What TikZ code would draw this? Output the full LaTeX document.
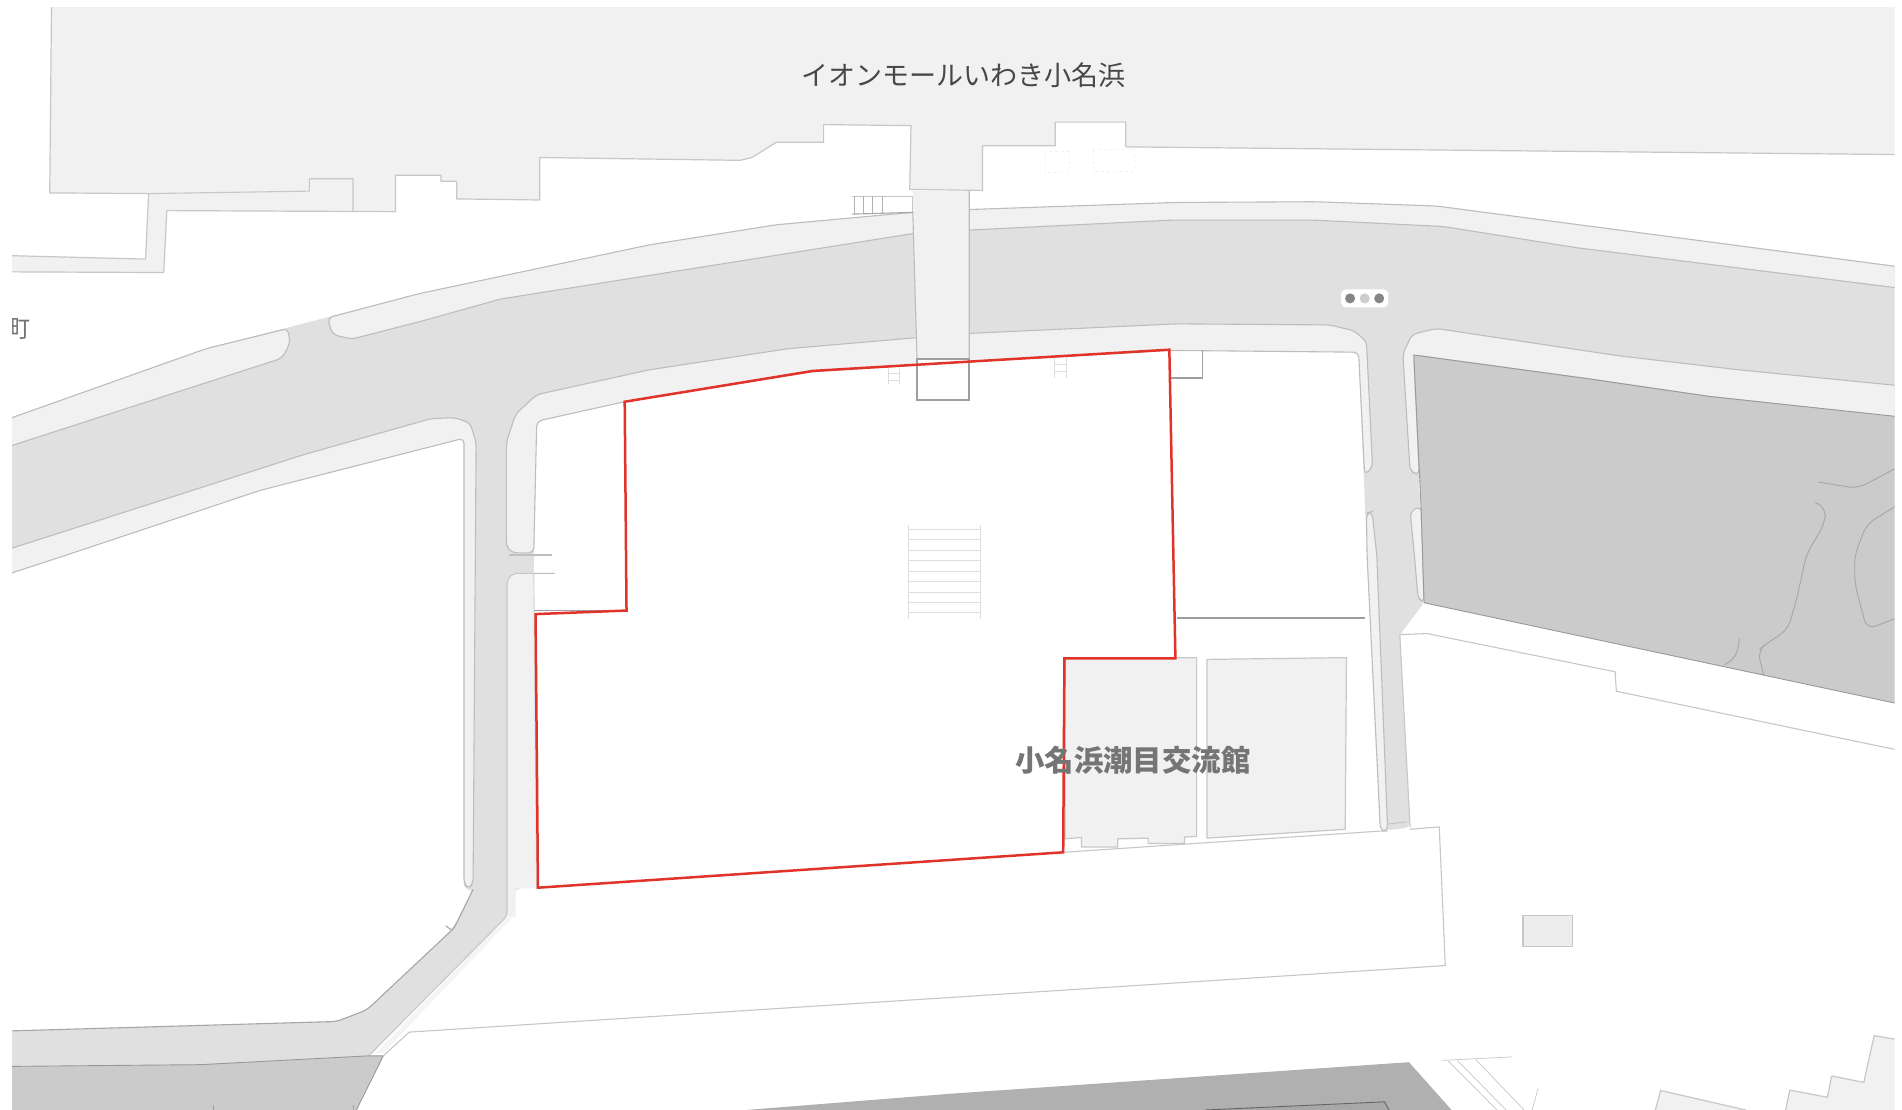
\documentclass[tikz,border=0pt]{standalone}
\usepackage{fontspec}
\newfontfamily\cjk{Noto Sans CJK JP}
\definecolor{roadc}{HTML}{E0E0E0}
\definecolor{walkc}{HTML}{F1F1F1}
\definecolor{edgec}{HTML}{BDBDBD}
\definecolor{parkc}{HTML}{CBCBCB}
\definecolor{redline}{HTML}{E2332A}
\tikzset{
  roadfill/.style={fill=roadc,draw=none,rounded corners=5pt},
  walk/.style={fill=walkc,draw=edgec,line width=1.1pt,rounded corners=5pt},
  block/.style={fill=walkc,draw=edgec!85,line width=1.2pt,line join=round},
  thinline/.style={draw=edgec!85,line width=1.1pt,line join=round},
  stairs/.style={draw=black!13,line width=.7pt},
  parkline/.style={draw=black!35,line width=.9pt,rounded corners=9pt},
  boundary/.style={draw=redline,line width=2.5pt,line join=miter},
  grayline/.style={draw=black!38,line width=1.1pt},
  lamp/.style={circle,inner sep=0pt,minimum size=10pt},
}
\begin{document}
\begin{tikzpicture}[x=0.60651pt,y=-0.35395pt]
\useasboundingbox (0,0) rectangle (3136,3136);
\fill[white] (0,0) rectangle (3136,3136);
\begin{scope}
\clip (20,20) rectangle (3124,3136);
% mall
\path[block] (85,5) -- (82,545) -- (245,547) -- (240,732) -- (10,722) -- (10,768) -- (270,770) -- (275,595) -- (652,598) -- (652,495) -- (727,495) -- (727,512) -- (753,512) -- (753,562) -- (890,565) -- (890,445) -- (1220,453) -- (1240,445) -- (1280,402) -- (1358,402) -- (1358,352) -- (1502,355) -- (1500,535) -- (1620,538) -- (1620,412) -- (1740,412) -- (1740,345) -- (1856,345) -- (1856,415) -- (3140,437) -- (3140,5) -- cycle;
\draw[thinline] (245,547) -- (510,540) -- (510,505) -- (582,505) -- (582,595);
% pale marks below the mall
\draw[draw=black!5,line width=.8pt,dashed] (1723,428) rectangle (1763,488);
\draw[draw=black!5,line width=.8pt,dashed] (1803,422) rectangle (1871,485);
% road surface
\path[roadfill] (10,1186) -- (340,985) -- (690,830) -- (1070,692) -- (1280,635) -- (1505,600) -- (1938,572) -- (2168,570) -- (2368,582) -- (3140,755) -- (3140,1180) -- (2818,1120) -- (2618,1070) -- (2331,1003) -- (2348,1703) -- (2308,1793) -- (2325,2338) -- (2276,2348) -- (2254,1568) -- (2240,995) -- (1928,990) -- (1568,1025) -- (1340,1050) -- (1030,1135) -- (885,1190) -- (880,1620) -- (885,2508) -- (850,2510) -- (836,2588) -- (608,2983) -- (330,3008) -- (10,3013) -- (10,2913) -- (555,2886) -- (605,2853) -- (745,2628) -- (780,2513) -- (765,2513) -- (765,1238) -- (430,1385) -- (110,1568) -- (10,1624) -- cycle;
% sidewalks
\path[walk] (10,1186) -- (340,985) -- (475,928) -- (478,970) -- (465,1012) -- (10,1264) -- cycle;
\path[walk] (540,898) -- (690,830) -- (1070,692) -- (1280,635) -- (1505,600) -- (1598,592) -- (1938,572) -- (2168,570) -- (2368,582) -- (3145,757) -- (3145,817) -- (2600,700) -- (2380,640) -- (2168,622) -- (1930,622) -- (1598,650) -- (1505,660) -- (825,845) -- (700,905) -- (580,958) -- (548,945) -- cycle;
\path[walk] (10,1554) -- (300,1395) -- (500,1285) -- (710,1183) -- (750,1180) -- (775,1195) -- (785,1250) -- (780,2495) -- (772,2513) -- (765,2495) -- (765,1238) -- (430,1385) -- (110,1568) -- (10,1624) -- cycle;
\path[walk] (835,1250) -- (850,1170) -- (885,1115) -- (1070,1045) -- (1300,985) -- (1505,955) -- (1598,942) -- (1940,915) -- (2193,918) -- (2233,935) -- (2253,965) -- (2263,1320) -- (2250,1342) -- (2240,995) -- (1928,990) -- (1568,1025) -- (1340,1050) -- (1030,1135) -- (885,1190) -- (880,1562) -- (845,1562) -- (835,1545) -- cycle;
\fill[walkc] (836,1640) -- (845,1620) -- (880,1620) -- (885,2508) -- (850,2510) -- (850,2590) -- (836,2588) -- cycle;
\fill[black!4] (836,2588) -- (846,2590) -- (632,2975) -- (620,2975) -- cycle;
\draw[thinline,rounded corners=4pt] (915,1620) -- (845,1620) -- (836,1640) -- (836,2588) -- (608,2983);
\draw[thinline,draw=edgec!60] (880,1620) -- (885,2508);
\path[walk] (2313,1000) -- (2328,945) -- (2368,928) -- (2668,1005) -- (2868,1045) -- (3145,1092) -- (3145,1182) -- (2818,1120) -- (2618,1070) -- (2331,1003) -- (2340,1342) -- (2325,1332) -- cycle;
\path[walk] (2253,1450) -- (2262,1445) -- (2270,1568) -- (2288,2348) -- (2276,2348) -- (2254,1568) -- cycle;
\path[walk] (2325,1445) -- (2343,1430) -- (2348,1703) -- (2338,1690) -- (2332,1568) -- cycle;
\draw[thinline] (2308,1793) -- (2325,2338);
\draw[thinline] (2288,2328) -- (2320,2322);
% west road edges
\draw[thinline,draw=black!35,rounded corners=5pt] (780,2513) -- (750,2618) -- (745,2628) -- (605,2853) -- (555,2886) -- (10,2913);
\draw[thinline,draw=black!35] (735,2616) -- (745,2628);
% park
\path[fill=parkc,draw=black!40,line width=.9pt] (2331,1003) -- (2618,1070) -- (2818,1120) -- (3145,1180) -- (3145,1994) -- (2348,1703) -- (2343,1430) -- cycle;
\draw[parkline] (2998,1362) -- (3063,1380) -- (3140,1310);
\draw[parkline] (2993,1420) -- (3011,1435) -- (3008,1480) -- (2978,1568) -- (2963,1688) -- (2948,1778) -- (2913,1818) -- (2898,1838) -- (2908,1908);
\draw[parkline] (2868,1803) -- (2863,1858) -- (2843,1878);
\draw[parkline] (3140,1415) -- (3078,1480) -- (3058,1568) -- (3058,1648) -- (3078,1778) -- (3140,1738);
% south-west dark block
\path[fill=parkc,draw=black!40,line width=.9pt] (10,3013) -- (330,3008) -- (608,2983) -- (632,2983) -- (585,3145) -- (10,3145) -- cycle;
\draw[grayline] (352,3123) -- (352,3136) (583,3123) -- (583,3136);
% east boundary lines
\draw[thinline] (2308,1793) -- (2353,1790) -- (2663,1898) -- (2665,1953) -- (3140,2123);
% large outlined plot
\draw[thinline] (2276,2348) -- (1753,2408) (2325,2343) -- (2373,2336) -- (2383,2728) -- (1568,2818) -- (675,2916) -- (632,2983);
% bridge
\fill[walkc] (1505,540) -- (1598,540) -- (1598,1015) -- (1512,1015) -- cycle;
\draw[thinline,draw=edgec] (1505,600) -- (1512,1015) (1598,540) -- (1598,1015);
\draw[thinline] (1505,555) -- (1505,600);
\draw[thinline] (1405,555) -- (1505,555);
\draw[stairs,draw=black!30] (1408,555) -- (1408,605) (1423,555) -- (1423,605) (1438,555) -- (1438,605) (1455,555) -- (1455,605);
\draw[thinline,draw=black!35] (1405,605) -- (1505,600);
\path[fill=white,draw=black!38,line width=1.6pt] (1512,1015) rectangle (1598,1130);
% small stairs
\draw[stairs] (1465,1040) -- (1465,1085) (1482,1040) -- (1482,1085) (1465,1055) -- (1482,1055) (1465,1075) -- (1482,1075);
\draw[stairs] (1738,1010) -- (1738,1068) (1758,1010) -- (1758,1068) (1738,1030) -- (1758,1030) (1738,1050) -- (1758,1050);
% central stairs
\draw[stairs] (1498,1484) -- (1498,1748) (1616,1484) -- (1616,1748);
\foreach \yy in {1495,1525,1555,1583,1613,1643,1673,1703,1730}
  \draw[stairs] (1498,\yy) -- (1616,\yy);
% grey site lines
\draw[grayline] (1930,1068) -- (1982,1068) -- (1982,990);
\draw[grayline] (1940,1746) -- (2251,1746);
\draw[draw=black!38,line width=1.8pt] (880,1725) -- (1033,1725);
\draw[draw=black!25,line width=1.4pt] (840,1568) -- (910,1568);
\draw[draw=edgec,line width=1pt] (880,1620) -- (915,1620);
% community centre
\path[block] (1756,1860) -- (1973,1858) -- (1973,2363) -- (1953,2365) -- (1953,2383) -- (1893,2383) -- (1893,2368) -- (1843,2370) -- (1843,2393) -- (1783,2393) -- (1783,2366) -- (1756,2370) -- cycle;
\path[block] (1990,1863) -- (2220,1858) -- (2218,2343) -- (1990,2368) -- cycle;
% small square
\path[block,fill=black!7] (2511,2586) rectangle (2593,2673);
% bottom building
\path[fill=black!31] (1165,3145) -- (1568,3090) -- (2323,3001) -- (2398,3145) -- cycle;
\path[fill=black!34,draw=black!60,line width=.9pt] (1988,3145) -- (1988,3136) -- (2283,3113) -- (2293,3145) -- cycle;
% bottom right
\draw[thinline,line width=.7pt] (2378,2996) -- (2493,2986) (2388,2998) -- (2468,3136) (2403,2996) -- (2483,3136) (2433,2993) -- (2513,3136) (2536,3076) -- (2526,3136);
\path[block] (2728,3145) -- (2738,3081) -- (2878,3136) -- (2878,3145) -- cycle;
\path[block] (2943,3145) -- (2951,3080) -- (3013,3100) -- (3020,3040) -- (3073,3058) -- (3090,2926) -- (3145,2942) -- (3145,3145) -- cycle;
% left-edge label, cut by the margin
\node[text=black!55,font=\cjk\fontsize{24}{26}\selectfont,inner sep=0pt] (town) at (30,930) {町};
\end{scope}
% traffic signal
\node[rounded corners=5pt,fill=white,draw=black!12,line width=.8pt,minimum width=48pt,minimum height=19pt,inner sep=0pt] (signal) at (2250,843) {};
\node[lamp,fill=black!48] (lampa) at (2226,843) {};
\node[lamp,fill=black!20] (lampb) at (2250,843) {};
\node[lamp,fill=black!48] (lampc) at (2274,843) {};
% site boundary
\draw[boundary] (1030,1135) -- (1340,1048) -- (1928,988) -- (1938,1860) -- (1755,1860) -- (1753,2408) -- (887,2508) -- (883,1735) -- (1033,1725) -- cycle;
% labels
\node[text=black!72,font=\cjk\fontsize{27}{30}\selectfont,inner sep=0pt] (mall) at (1589,212) {イオンモールいわき小名浜};
\node[text=black!54,font=\cjk\bfseries\fontsize{29.4}{31}\selectfont,inner sep=0pt] (centre) at (1868,2148) {小名浜潮目交流館};
\end{tikzpicture}
\end{document}
